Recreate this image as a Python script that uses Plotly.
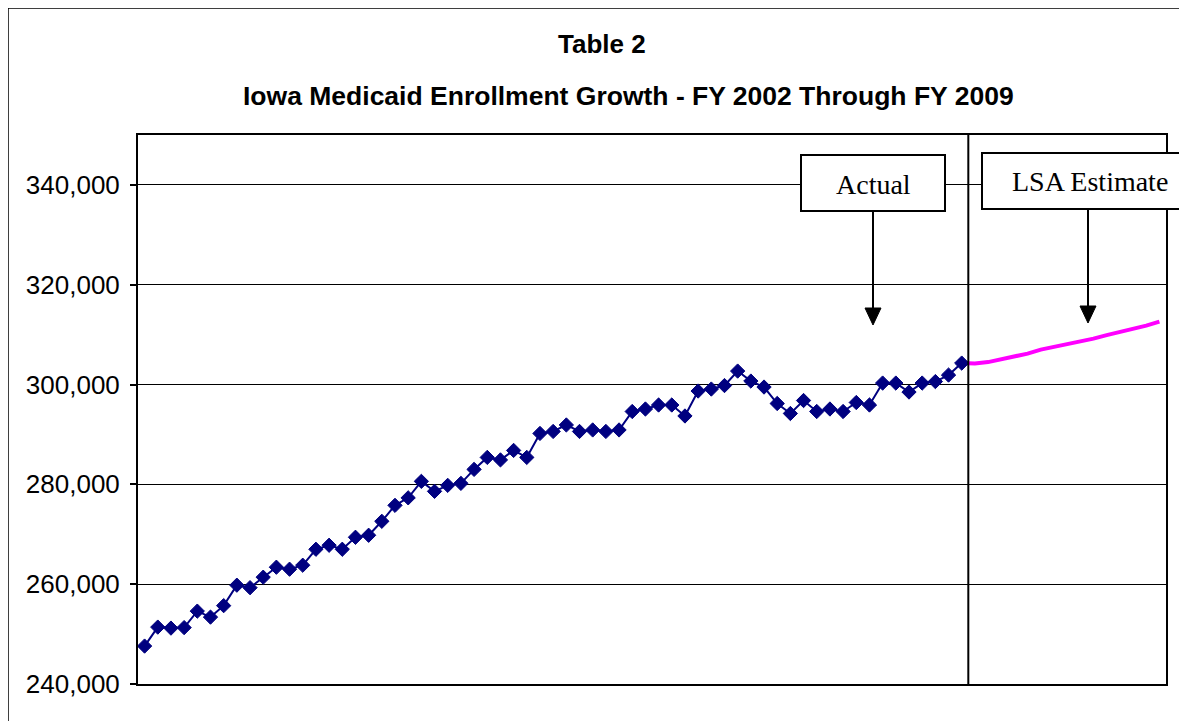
import plotly.graph_objects as go

# ---- data ----
actual_values = [
    247600, 251400, 251200, 251300, 254600, 253400, 255700, 259800, 259300, 261400,
    263400, 263000, 263800, 267000, 267800, 267000, 269400, 269800, 272600, 275800,
    277300, 280600, 278600, 279800, 280200, 283000, 285400, 284900, 286800, 285400,
    290200, 290600, 291900, 290600, 290900, 290600, 290900, 294600, 295100, 295900,
    295900, 293700, 298700, 299100, 299800, 302700, 300700, 299500, 296200, 294200,
    296800, 294600, 295100, 294600, 296400, 295900, 300300, 300300, 298500, 300300,
    300600, 301900, 304300,
]
estimate_values = [
    304300, 304200, 304500, 305000, 305500, 306200, 307000, 307500,
    308200, 308700, 309200, 309900, 310500, 311300, 311800, 312600,
]
n_actual = len(actual_values)
estimate_start = n_actual - 1
n_total = estimate_start + len(estimate_values)
actual_x = list(range(n_actual))
estimate_x = list(range(estimate_start, n_total))

y_ticks = [240000, 260000, 280000, 300000, 320000, 340000]
y_tick_text = ["240,000", "260,000", "280,000", "300,000", "320,000", "340,000"]
title_line1 = "Table 2"
title_line2 = "Iowa Medicaid Enrollment Growth - FY 2002 Through FY 2009"
label_actual = "Actual"
label_estimate = "LSA Estimate"

# ---- figure geometry (page pixels; the page body adds an 8px offset) ----
OFF = 8
W, H = 1187 - OFF, 721 - OFF
L, R, T, B = 138, 1166, 135, 684  # plot area in page pixels
pw, ph = R - L, B - T


def px(x):
    return (x - L) / pw


def py(y):
    return (B - y) / ph


fig = go.Figure()

fig.add_trace(go.Scatter(
    x=estimate_x, y=estimate_values, mode="lines",
    line=dict(color="#FF00FF", width=4),
    showlegend=False, hoverinfo="skip",
))
fig.add_trace(go.Scatter(
    x=actual_x, y=actual_values, mode="lines+markers",
    line=dict(color="#000080", width=2),
    marker=dict(symbol="diamond", size=11, color="#000080",
                line=dict(color="#000080", width=1)),
    showlegend=False, hoverinfo="skip",
))

shapes = []
# outer chart border
shapes.append(dict(type="rect", xref="paper", yref="paper",
                   x0=px(8), x1=px(1200), y0=py(8), y1=py(740),
                   line=dict(color="black", width=1.5), layer="below"))
# divider between actual and estimate
shapes.append(dict(type="line", xref="x", yref="paper",
                   x0=estimate_start + 0.5, x1=estimate_start + 0.5, y0=0, y1=1,
                   line=dict(color="black", width=2)))
# label boxes
shapes.append(dict(type="rect", xref="paper", yref="paper",
                   x0=px(801), x1=px(945), y0=py(211), y1=py(155),
                   line=dict(color="black", width=2), fillcolor="white", layer="above"))
shapes.append(dict(type="rect", xref="paper", yref="paper",
                   x0=px(982), x1=px(1200), y0=py(209), y1=py(153),
                   line=dict(color="black", width=2), fillcolor="white", layer="above"))
# arrows
for ax_, y0, y1 in [(873, 212, 325), (1088, 210, 323)]:
    shapes.append(dict(type="line", xref="paper", yref="paper",
                       x0=px(ax_), x1=px(ax_), y0=py(y0), y1=py(y1 - 14),
                       line=dict(color="black", width=2)))
    shapes.append(dict(type="path", xref="paper", yref="paper",
                       path=f"M {px(ax_-8)} {py(y1-17)} L {px(ax_+8)} {py(y1-17)} L {px(ax_)} {py(y1)} Z",
                       fillcolor="black", line=dict(color="black", width=1)))

annotations = [
    dict(text=f"<b>{title_line1}</b>", xref="paper", yref="paper",
         x=px(602), y=py(44), showarrow=False, xanchor="center", yanchor="middle",
         font=dict(family="Liberation Sans, Arial", size=26, color="black")),
    dict(text=f"<b>{title_line2}</b>", xref="paper", yref="paper",
         x=px(628), y=py(96), showarrow=False, xanchor="center", yanchor="middle",
         font=dict(family="Liberation Sans, Arial", size=26.5, color="black")),
    dict(text=label_actual, xref="paper", yref="paper",
         x=px(873), y=py(184), showarrow=False, xanchor="center", yanchor="middle",
         font=dict(family="Liberation Serif, Times New Roman", size=28, color="black")),
    dict(text=label_estimate, xref="paper", yref="paper",
         x=px(1090), y=py(182), showarrow=False, xanchor="center", yanchor="middle",
         font=dict(family="Liberation Serif, Times New Roman", size=28, color="black")),
]

fig.update_layout(
    width=W, height=H, autosize=False,
    margin=dict(l=L - OFF, r=W - (R - OFF), t=T - OFF, b=H - (B - OFF), pad=0),
    paper_bgcolor="white", plot_bgcolor="white",
    shapes=shapes, annotations=annotations,
    xaxis=dict(range=[-0.5, n_total - 0.5], showticklabels=False, ticks="",
               showgrid=False, zeroline=False, showline=True, linecolor="black",
               linewidth=2, mirror=True),
    yaxis=dict(range=[240000, 350000], tickvals=y_ticks, ticktext=y_tick_text,
               ticks="outside", ticklen=6, tickcolor="black", tickwidth=1.5,
               ticklabelstandoff=5,
               showgrid=True, gridcolor="black", gridwidth=1, zeroline=False,
               showline=True, linecolor="black", linewidth=2, mirror=True,
               tickfont=dict(family="Liberation Sans, Arial", size=26, color="black")),
)

fig.write_html("out.html")
